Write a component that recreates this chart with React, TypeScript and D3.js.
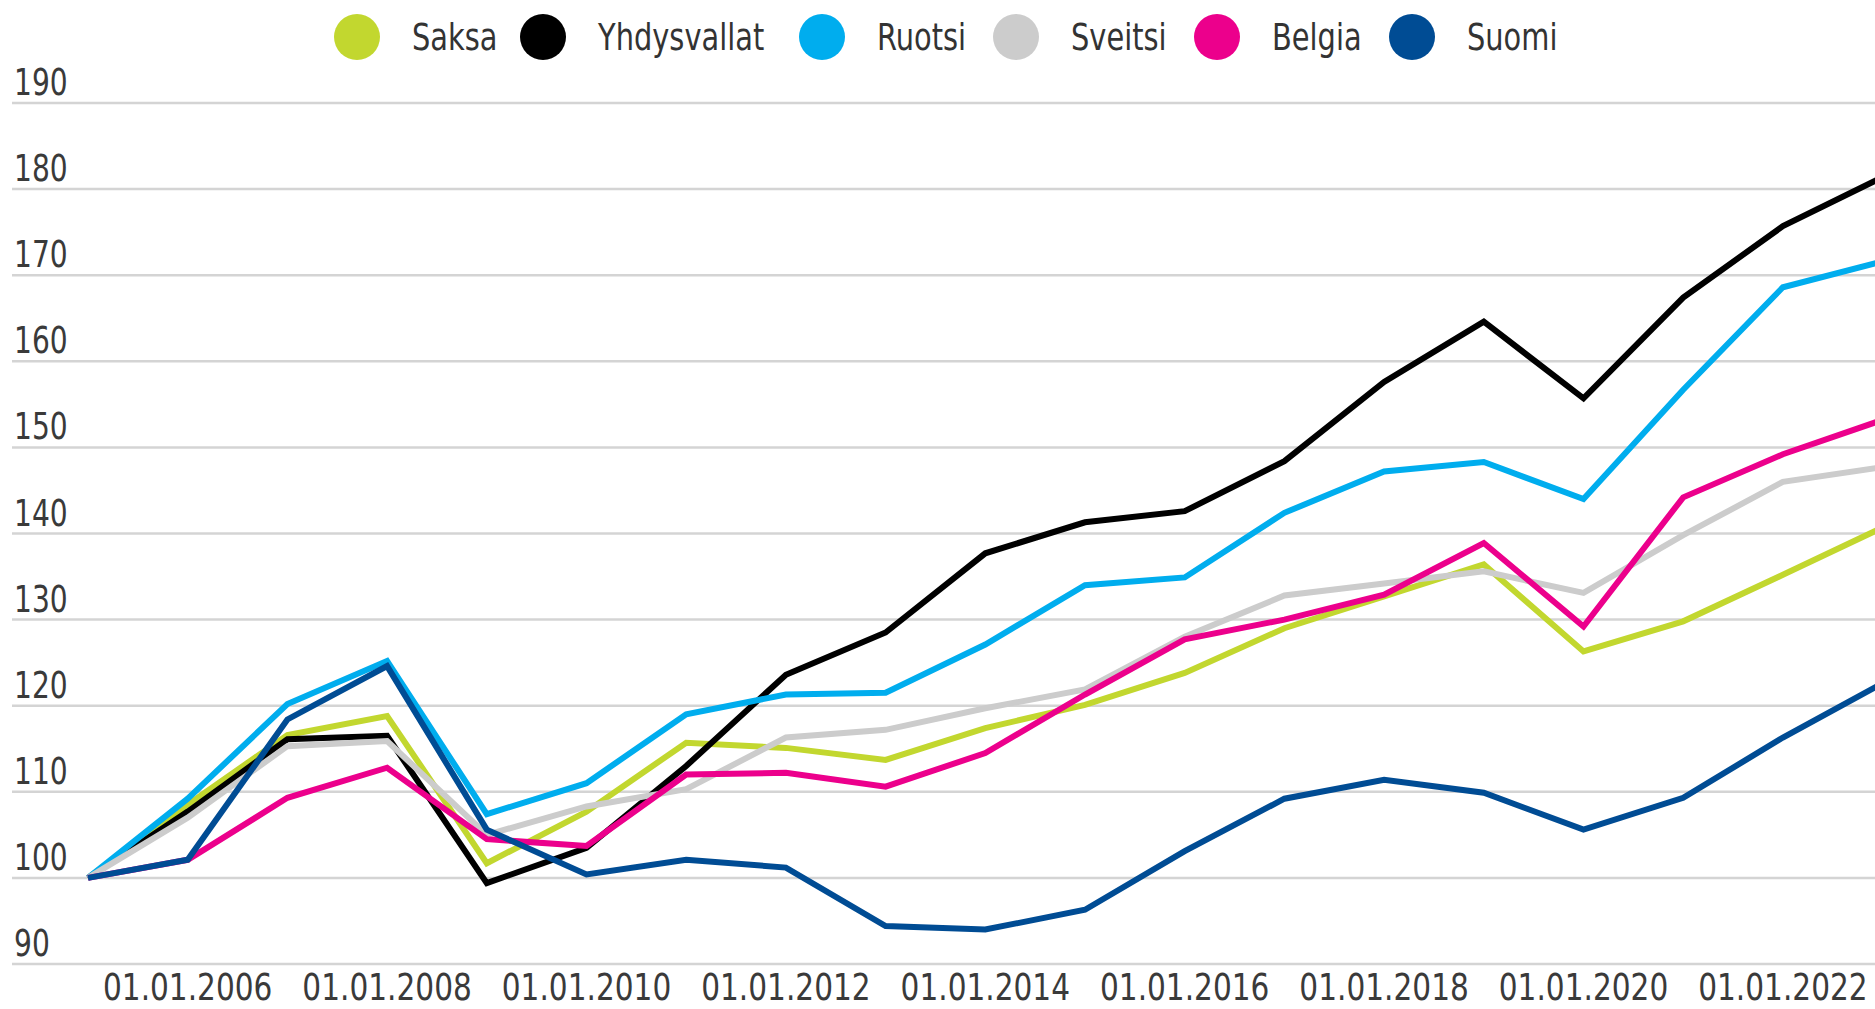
import React from "react";
import * as d3 from "d3";

const categories = [
  "01.01.2005", "01.01.2006", "01.01.2007", "01.01.2008", "01.01.2009",
  "01.01.2010", "01.01.2011", "01.01.2012", "01.01.2013", "01.01.2014",
  "01.01.2015", "01.01.2016", "01.01.2017", "01.01.2018", "01.01.2019",
  "01.01.2020", "01.01.2021", "01.01.2022", "01.01.2023",
];

const saksa = [100, 108.5, 116.6, 118.8, 101.7, 107.7, 115.7, 115.1, 113.7, 117.4, 120.1, 123.8, 129, 132.7, 136.4, 126.3, 129.8, 135.2, 140.7];
const yhdysvallat = [100, 107.7, 116.1, 116.5, 99.4, 103.5, 113, 123.6, 128.5, 137.7, 141.3, 142.6, 148.4, 157.6, 164.6, 155.7, 167.4, 175.7, 181.4];
const ruotsi = [100, 109.2, 120.2, 125.2, 107.4, 111, 119, 121.3, 121.5, 127.1, 134, 134.9, 142.4, 147.2, 148.3, 144, 156.7, 168.6, 171.6];
const sveitsi = [100, 107, 115.3, 115.9, 105, 108.3, 110.3, 116.3, 117.2, 119.7, 121.9, 128, 132.8, 134.2, 135.6, 133.1, 139.8, 146, 147.7];
const belgia = [100, 102.1, 109.3, 112.8, 104.5, 103.7, 112, 112.2, 110.6, 114.5, 121.3, 127.7, 130, 132.9, 138.9, 129.2, 144.2, 149.2, 153.2];
const suomi = [100, 102.1, 118.4, 124.6, 105.6, 100.4, 102.1, 101.2, 94.4, 94, 96.3, 103.1, 109.2, 111.4, 109.9, 105.6, 109.3, 116.3, 122.6];

const seriesNames = ["Saksa", "Yhdysvallat", "Ruotsi", "Sveitsi", "Belgia", "Suomi"];
const seriesValues = [saksa, yhdysvallat, ruotsi, sveitsi, belgia, suomi];
const seriesColors = ["#c2d72f", "#000000", "#00adee", "#cccccc", "#ec008c", "#004c94"];

const yTicks = [90, 100, 110, 120, 130, 140, 150, 160, 170, 180, 190];
const xTickLabels = ["01.01.2006", "01.01.2008", "01.01.2010", "01.01.2012", "01.01.2014", "01.01.2016", "01.01.2018", "01.01.2020", "01.01.2022"];

const width = 1875;
const height = 1009;
const font = "'DejaVu Sans', sans-serif";
// the original font is a narrow one, so squeeze DejaVu horizontally
const squeeze = 0.76;

export default function App() {
  const x = d3.scalePoint<string>().domain(categories).range([88, 88 + 18 * 99.7]);
  const y = d3.scaleLinear().domain([90, 190]).range([964, 103]);

  const line = d3
    .line<number>()
    .x((d, i) => x(categories[i]) as number)
    .y((d) => y(d));

  // legend circle centres
  const legendX = [357, 543, 822, 1016, 1217, 1412];

  return (
    <svg
      width={width}
      height={height}
      style={{ position: "absolute", left: 0, top: 0, display: "block", background: "#fff" }}
      fontFamily={font}
    >
      {yTicks.map((t) => (
        <g key={t}>
          <line x1={12} x2={width} y1={y(t)} y2={y(t)} stroke="#d4d4d4" strokeWidth={2.5} />
          <g transform={`translate(14,${y(t) - 8}) scale(${squeeze},1)`}>
            <text fontSize={37} fill="#3a3a3a">{t}</text>
          </g>
        </g>
      ))}

      {xTickLabels.map((c) => (
        <g key={c} transform={`translate(${x(c)},1000) scale(0.8,1)`}>
          <text fontSize={37} fill="#3a3a3a" textAnchor="middle">{c}</text>
        </g>
      ))}

      {seriesValues.map((vals, i) => (
        <path
          key={seriesNames[i]}
          d={line(vals) || ""}
          fill="none"
          stroke={seriesColors[i]}
          strokeWidth={6}
          strokeLinejoin="miter"
        />
      ))}

      {seriesNames.map((name, i) => (
        <g key={name} transform={`translate(${legendX[i]},37)`}>
          <circle r={23} fill={seriesColors[i]} />
          <g transform={`translate(55,13) scale(${squeeze},1)`}>
            <text fontSize={38} fill="#333">{name}</text>
          </g>
        </g>
      ))}
    </svg>
  );
}
